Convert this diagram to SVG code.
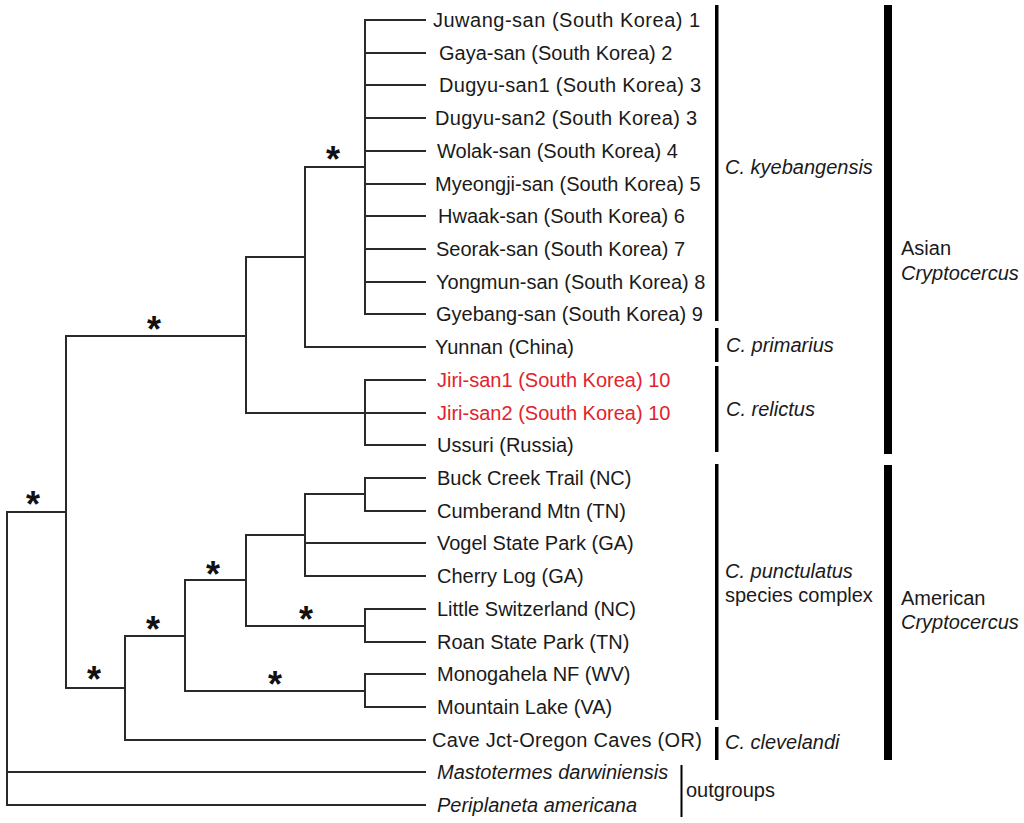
<svg xmlns="http://www.w3.org/2000/svg" width="1024" height="823" viewBox="0 0 1024 823">
<style>
.e{fill:none;stroke:#2a2a2a;stroke-width:2;stroke-linecap:square}
.t{font-family:"Liberation Sans",Arial,sans-serif;font-size:20px;fill:#1a1a1a}
.r{fill:#e3232b}
.i{font-style:italic}
.s{font-family:"Liberation Sans",Arial,sans-serif;font-size:36px;font-weight:bold;fill:#111;text-anchor:middle}
.b{fill:#000}
</style>
<rect width="1024" height="823" fill="#fff"/>
<g id="connectors">
<path class="e" d="M365,20V314M365,20H425M365,53H425M365,85H425M365,118H425M365,151H425M365,184H425M365,216H425M365,249H425M365,282H425M365,314H425"/>
<path class="e" d="M305,167H365M305,167V347H425M246,257H305"/>
<path class="e" d="M365,380V445M365,380H425M246,413H425M365,445H425"/>
<path class="e" d="M246,257V413M66,336H246"/>
<path class="e" d="M365,478V511M365,478H425M365,511H425M305,494H365M305,494V576H425M305,543H425M246,535H305"/>
<path class="e" d="M365,609V642M365,609H425M365,642H425M246,626H365M246,535V626M185,580H246"/>
<path class="e" d="M365,674V707M365,674H425M365,707H425M185,691H365M185,580V691M125,636H185"/>
<path class="e" d="M125,636V740H425M66,688H125M66,336V688M7,512H66M7,512V805H425M7,772H425"/>
</g>
<g id="support">
<text class="s" x="333" y="172">*</text>
<text class="s" x="154" y="342">*</text>
<text class="s" x="33" y="517">*</text>
<text class="s" x="94" y="692">*</text>
<text class="s" x="153" y="642">*</text>
<text class="s" x="213" y="587">*</text>
<text class="s" x="306" y="632">*</text>
<text class="s" x="275" y="697">*</text>
</g>
<g id="leaves">
<text class="t" x="433" y="27" letter-spacing="0.5">Juwang-san (South Korea) 1</text>
<text class="t" x="439" y="60">Gaya-san (South Korea) 2</text>
<text class="t" x="439" y="92" letter-spacing="0.3">Dugyu-san1 (South Korea) 3</text>
<text class="t" x="435" y="125" letter-spacing="0.3">Dugyu-san2 (South Korea) 3</text>
<text class="t" x="437" y="158">Wolak-san (South Korea) 4</text>
<text class="t" x="435" y="191">Myeongji-san (South Korea) 5</text>
<text class="t" x="438" y="223">Hwaak-san (South Korea) 6</text>
<text class="t" x="436" y="256">Seorak-san (South Korea) 7</text>
<text class="t" x="436" y="289">Yongmun-san (South Korea) 8</text>
<text class="t" x="436" y="321">Gyebang-san (South Korea) 9</text>
<text class="t" x="435" y="354">Yunnan (China)</text>
<text class="t r" x="437" y="387">Jiri-san1 (South Korea) 10</text>
<text class="t r" x="437" y="420">Jiri-san2 (South Korea) 10</text>
<text class="t" x="437" y="452">Ussuri (Russia)</text>
<text class="t" x="437" y="485">Buck Creek Trail (NC)</text>
<text class="t" x="437" y="518">Cumberand Mtn (TN)</text>
<text class="t" x="437" y="550">Vogel State Park (GA)</text>
<text class="t" x="437" y="583">Cherry Log (GA)</text>
<text class="t" x="437" y="616">Little Switzerland (NC)</text>
<text class="t" x="437" y="649">Roan State Park (TN)</text>
<text class="t" x="437" y="681">Monogahela NF (WV)</text>
<text class="t" x="437" y="714">Mountain Lake (VA)</text>
<text class="t" x="432" y="747" letter-spacing="0.3">Cave Jct-Oregon Caves (OR)</text>
<text class="t i" x="437" y="779">Mastotermes darwiniensis</text>
<text class="t i" x="437" y="812">Periplaneta americana</text>
</g>
<g id="species">
<rect class="b" x="715" y="5" width="3.5" height="316"/>
<rect class="b" x="715" y="328" width="3.5" height="34"/>
<rect class="b" x="715" y="366" width="3.5" height="86"/>
<rect class="b" x="715" y="464" width="3.5" height="256"/>
<rect class="b" x="715" y="727" width="3.5" height="33"/>
<text class="t i" x="725" y="174">C. kyebangensis</text>
<text class="t i" x="726" y="352">C. primarius</text>
<text class="t i" x="726" y="416">C. relictus</text>
<text class="t" x="725" y="578"><tspan class="i">C. punctulatus</tspan><tspan x="725" y="602">species complex</tspan></text>
<text class="t i" x="725" y="749">C. clevelandi</text>
</g>
<g id="outgroups">
<rect class="b" x="680.5" y="765" width="2" height="52"/>
<text class="t" x="686" y="797">outgroups</text>
</g>
<g id="groups">
<rect class="b" x="884" y="5" width="8" height="449"/>
<rect class="b" x="884" y="465" width="8" height="295"/>
<text class="t" x="901" y="255">Asian</text>
<text class="t i" x="901" y="280">Cryptocercus</text>
<text class="t" x="901" y="605">American</text>
<text class="t i" x="901" y="629">Cryptocercus</text>
</g>
</svg>
